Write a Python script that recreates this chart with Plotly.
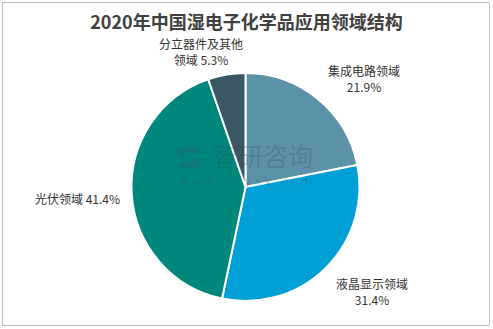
import plotly.graph_objects as go

categories = ["集成电路领域", "液晶显示领域", "光伏领域", "分立器件及其他领域"]
values = [21.9, 31.4, 41.4, 5.3]
colors = ["#5b92a8", "#00a0d7", "#00877c", "#3a5766"]
label_texts = ["集成电路领域<br>21.9%", "液晶显示领域<br>31.4%", "光伏领域 41.4%", "分立器件及其他<br>领域 5.3%"]

W, H = 493, 329
cx, cy, r = 245.5, 187, 114

fig = go.Figure(go.Pie(
    labels=categories, values=values, sort=False, direction="clockwise", rotation=0,
    marker=dict(colors=colors, line=dict(color="white", width=2)),
    textinfo="none", hoverinfo="label+percent",
    domain=dict(x=[(cx - r) / W, (cx + r) / W], y=[(H - cy - r) / H, (H - cy + r) / H]),
    showlegend=False,
))

label_pos = [(364, 79), (372, 291), (77, 198), (201, 51)]
annots = []
for t, (x, y) in zip(label_texts, label_pos):
    annots.append(dict(text=t, x=x / W, y=1 - y / H, xref="paper", yref="paper",
                       xanchor="center", yanchor="middle",
                       showarrow=False, font=dict(size=12, color="#333333",
                       family="Noto Sans CJK SC"), align="center"))
# watermark
wm = "rgba(50,70,85,0.25)"
annots.append(dict(text="智研咨询", x=263 / W, y=1 - 155 / H, xref="paper", yref="paper",
                   xanchor="center", yanchor="middle",
                   showarrow=False, font=dict(size=25, color=wm,
                   family="Noto Sans CJK SC")))
annots.append(dict(text="w w w . c h y x x . c o m", x=246 / W, y=1 - 181 / H, xref="paper", yref="paper",
                   xanchor="center", yanchor="middle",
                   showarrow=False, font=dict(size=11, color="rgba(50,80,100,0.3)",
                   family="DejaVu Sans")))

def px(x, y):
    return f"{x / W},{1 - y / H}"

logo = (f"M {px(178,147)} L {px(201,147)} L {px(201,153)} L {px(184,153)} L {px(184,158)} "
        f"L {px(178,158)} Z M {px(201,168)} L {px(178,168)} L {px(178,162)} L {px(195,162)} "
        f"L {px(195,157)} L {px(201,157)} Z")

fig.update_layout(
    width=W, height=H, margin=dict(l=0, r=0, t=0, b=0),
    paper_bgcolor="white", plot_bgcolor="white",
    title=dict(text="<b>2020年中国湿电子化学品应用领域结构</b>", x=0.5, xanchor="center",
               y=1 - 23 / H, yanchor="middle",
               font=dict(size=18, color="#404040", family="Noto Sans CJK SC")),
    annotations=annots,
    shapes=[dict(type="rect", xref="paper", yref="paper", x0=2.5 / W, x1=489.5 / W,
                 y0=1 - 325.5 / H, y1=1 - 2.5 / H, line=dict(color="#bfbfbf", width=1)),
            dict(type="path", xref="paper", yref="paper", path=logo,
                 fillcolor="rgba(40,90,120,0.3)", line=dict(width=0), layer="above")],
)

fig.write_html("out.html")
